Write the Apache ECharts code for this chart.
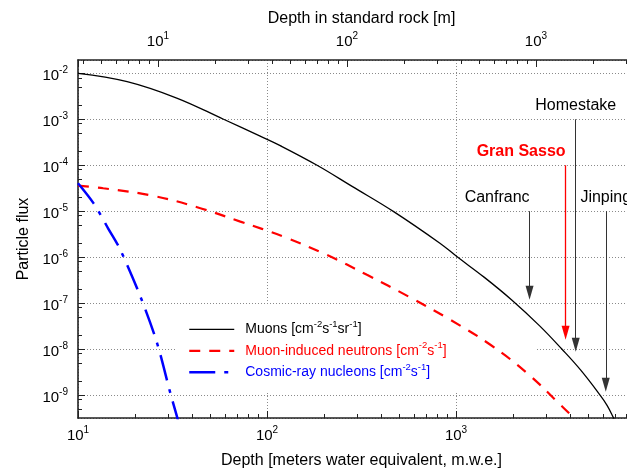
<!DOCTYPE html>
<html>
<head>
<meta charset="utf-8">
<script src="https://cdn.jsdelivr.net/npm/echarts@6/dist/echarts.min.js"></script>
<style>html,body{margin:0;padding:0;background:#fff}#c{width:627px;height:471px}</style>
</head>
<body>
<div id="c"></div>
<script>
// ---- data (depth in m.w.e., flux) ----
const muonDepth = [10, 18.2, 33.3, 58.9, 92, 117.5, 184, 282, 468, 822, 1010, 1413, 1972, 2780, 3630, 4571, 5780, 6310, 6810, 7400];
const muonFlux = [1.0e-2, 6.6e-3, 2.9e-3, 1.0e-3, 4.3e-4, 2.67e-4, 1.0e-4, 3.47e-5, 9.8e-6, 2.01e-6, 1.03e-6, 3.63e-7, 1.17e-7, 3.16e-8, 1.0e-8, 3.47e-9, 1.0e-9, 5.9e-10, 3.2e-10, 1.6e-10];
const neutronDepth = [10, 13.6, 25.1, 42.7, 72.3, 122, 207, 338, 561, 933, 1520, 2377, 3565, 4190, 4570];
const neutronFlux = [3.6e-5, 3.16e-5, 2.15e-5, 1.22e-5, 5.94e-6, 2.8e-6, 1.12e-6, 4.12e-7, 1.39e-7, 4.34e-8, 1.24e-8, 3.0e-9, 6.15e-10, 3.16e-10, 2.0e-10];
const nucleonDepth = [10, 12.1, 14.45, 16.7, 21.4, 26.2, 30.8, 33.4, 34.7];
const nucleonFlux = [4.07e-5, 1.48e-5, 4.2e-6, 1.48e-6, 1.38e-7, 1.35e-8, 1.1e-9, 3.4e-10, 1.8e-10];

// underground laboratories (arrows)
const siteNames = ['Canfranc', 'Gran Sasso', 'Homestake', 'Jinping'];
const siteDepth = [2450, 3800, 4300, 6200];
const siteFrom = [1e-5, 1e-4, 1e-3, 1e-5];
const siteTo = [1.67e-7, 2.26e-8, 1.24e-8, 1.67e-9];

const seriesNames = ['Muons', 'Muon-induced neutrons', 'Cosmic-ray nucleons'];
const legendTexts = [
  '{f|Muons [cm}{s|-2}{b|s}{s|-1}{b|sr}{s|-1}{b|]}',
  '{f|Muon-induced neutrons [cm}{s|-2}{b|s}{s|-1}{b|]}',
  '{f|Cosmic-ray nucleons [cm}{s|-2}{b|s}{s|-1}{b|]}'
];
const yMinorTicks = [];
[-10, -9, -8, -7, -6, -5, -4, -3, -2].forEach(function (e) {
  [2, 5, 8].forEach(function (k) { yMinorTicks.push(k * Math.pow(10, e)); });
});
const rockDensity = 2.65;

// ---- chart ----
const FONT = '"Liberation Sans", Arial, Helvetica, sans-serif';
const zip = (a, b) => a.map((v, i) => [v, b[i]]);
function supLabel(v) {
  const l = Math.log10(v);
  const e = Math.round(l);
  if (Math.abs(l - e) > 1e-6) return '';
  return '{b|10}{s|' + e + '}';
}
const labelRich = {
  b: {fontSize: 15, lineHeight: 22, color: '#000', fontFamily: FONT},
  s: {fontSize: 10, lineHeight: 12, verticalAlign: 'top', color: '#000', fontFamily: FONT}
};
const AX = '#222';
const gridLine = {show: true, lineStyle: {color: '#8a8a8a', width: 1, type: [1, 2]}};

const chart = echarts.init(document.getElementById('c'), null, {renderer: 'canvas'});
const option = {
  animation: false,
  backgroundColor: '#fff',
  textStyle: {fontFamily: FONT},
  grid: {left: 78, top: 60, right: -18, bottom: 53, show: false, outerBoundsMode: 'none'},
  xAxis: [
    {
      type: 'log', min: 10, max: 10000, position: 'bottom',
      name: 'Depth [meters water equivalent, m.w.e.]', nameLocation: 'middle', nameGap: 35,
      nameTextStyle: {fontSize: 16, color: '#000', fontFamily: FONT},
      axisLine: {show: true, onZero: false, lineStyle: {color: AX, width: 1.6}},
      axisTick: {show: true, inside: true, length: 7, lineStyle: {color: AX, width: 1}},
      minorTick: {show: true, splitNumber: 9, length: 4, lineStyle: {color: AX, width: 1}},
      axisLabel: {formatter: supLabel, rich: labelRich, margin: 7, showMinLabel: true, showMaxLabel: false},
      splitLine: gridLine, minorSplitLine: {show: false}
    },
    {
      type: 'log', min: 10 / rockDensity, max: 10000 / rockDensity, position: 'top',
      name: 'Depth in standard rock [m]', nameLocation: 'middle', nameGap: 32,
      nameTextStyle: {fontSize: 16, color: '#000', fontFamily: FONT},
      axisLine: {show: true, onZero: false, lineStyle: {color: AX, width: 1.6}},
      axisTick: {show: true, inside: true, length: 7, lineStyle: {color: AX, width: 1}},
      minorTick: {show: true, splitNumber: 9, length: 4, lineStyle: {color: AX, width: 1}},
      axisLabel: {formatter: supLabel, rich: labelRich, margin: 7, showMinLabel: false, showMaxLabel: false},
      splitLine: {show: false}
    }
  ],
  yAxis: [
    {
      type: 'log', min: Math.pow(10, -9.5), max: Math.pow(10, -1.71), position: 'left',
      name: 'Particle flux', nameLocation: 'middle', nameGap: 43,
      nameTextStyle: {fontSize: 16, color: '#000', fontFamily: FONT},
      axisLine: {show: true, onZero: false, lineStyle: {color: AX, width: 1.6}},
      axisTick: {show: true, inside: true, length: 7, lineStyle: {color: AX, width: 1}},
      axisLabel: {formatter: supLabel, rich: labelRich, margin: 10, padding: [6, 0, 0, 0], showMinLabel: false, showMaxLabel: false},
      splitLine: gridLine
    },
    {
      type: 'log', min: Math.pow(10, -9.5), max: Math.pow(10, -1.71), position: 'left',
      axisLine: {show: false},
      axisTick: {show: true, inside: true, length: 4, customValues: yMinorTicks, lineStyle: {color: AX, width: 1}},
      axisLabel: {show: false},
      splitLine: {show: false}
    }
  ],
  legend: {
    orient: 'vertical', left: 188, top: 319.3, padding: 0, itemGap: 4.5,
    itemWidth: 45, itemHeight: 14, selectedMode: false,
    itemStyle: {opacity: 0},
    data: [
      {name: seriesNames[0], textStyle: {color: '#000'}, lineStyle: {width: 1.3}},
      {name: seriesNames[1], textStyle: {color: '#ff0000'}, lineStyle: {width: 2.2}},
      {name: seriesNames[2], textStyle: {color: '#0000ff'}, lineStyle: {width: 2.5}}
    ],
    formatter: function (n) { return legendTexts[seriesNames.indexOf(n)]; },
    textStyle: {
      fontFamily: FONT, fontSize: 14,
      rich: {
        f: {fontSize: 14, lineHeight: 20, padding: [0, 0, 0, 6], fontFamily: FONT},
        b: {fontSize: 14, lineHeight: 20, fontFamily: FONT},
        s: {fontSize: 9.5, lineHeight: 11, verticalAlign: 'top', fontFamily: FONT}
      }
    }
  },
  graphic: [
    {type: 'rect', z: 1, silent: true, shape: {x: 176, y: 306, width: 361, height: 87}, style: {fill: '#fff'}}
  ],
  series: [
    {
      name: seriesNames[0], type: 'line', xAxisIndex: 0, yAxisIndex: 0,
      data: zip(muonDepth, muonFlux), symbol: 'none', smooth: 0.4, clip: true,
      lineStyle: {color: '#000', width: 1.3}, itemStyle: {color: '#000'}, z: 3,
      markLine: {
        silent: true, animation: false,
        symbol: ['none', 'triangle'], symbolSize: [8, 14],
        label: {show: true, position: 'start', formatter: '{b}', fontSize: 16, fontFamily: FONT, color: '#000', distance: 6},
        data: siteNames.map(function (n, i) {
          const red = n === 'Gran Sasso';
          return [
            {
              name: n, coord: [siteDepth[i], siteFrom[i]],
              lineStyle: {color: red ? '#ff0000' : '#333', width: red ? 1.3 : 1, type: 'solid'},
              label: {
                align: (n === 'Canfranc' || red) ? 'right' : 'center',
                color: red ? '#ff0000' : '#000', fontWeight: red ? 'bold' : 'normal'
              }
            },
            {coord: [siteDepth[i], siteTo[i]]}
          ];
        })
      }
    },
    {
      name: seriesNames[1], type: 'line', xAxisIndex: 0, yAxisIndex: 0,
      data: zip(neutronDepth, neutronFlux), symbol: 'none', smooth: 0.4, clip: true,
      lineStyle: {color: '#ff0000', width: 2.2, type: [11, 9]}, itemStyle: {color: '#ff0000'}, z: 3
    },
    {
      name: seriesNames[2], type: 'line', xAxisIndex: 0, yAxisIndex: 0,
      data: zip(nucleonDepth, nucleonFlux), symbol: 'none', smooth: 0.3, clip: true,
      lineStyle: {color: '#0000ff', width: 2.5, type: [26, 9, 4, 9]}, itemStyle: {color: '#0000ff'}, z: 3
    }
  ]
};
chart.setOption(option);
</script>
</body>
</html>
